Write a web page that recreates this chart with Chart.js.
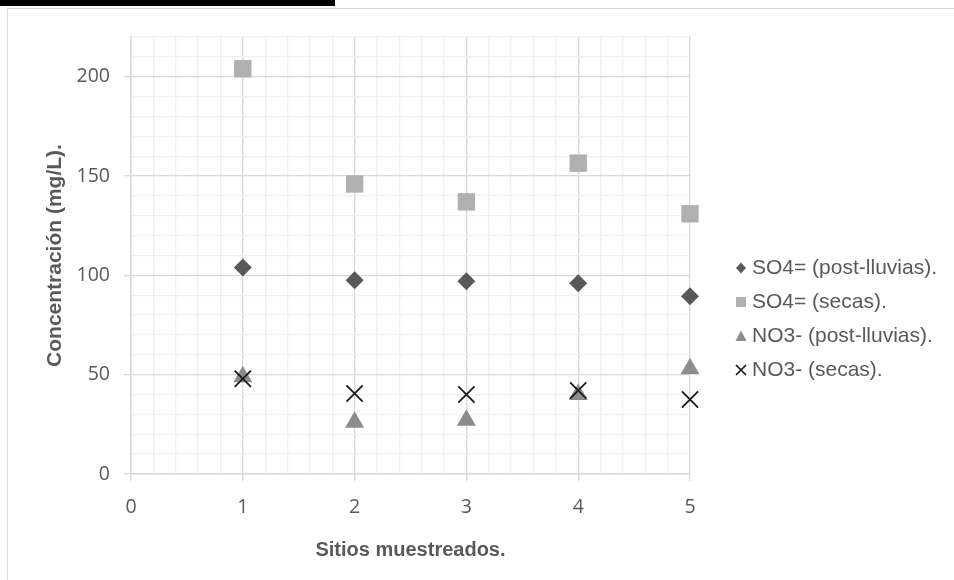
<!DOCTYPE html>
<html>
<head>
<meta charset="utf-8">
<script src="https://cdn.jsdelivr.net/npm/chart.js@4"></script>
<style>
  html, body { margin: 0; padding: 0; background: #fff; }
  #wrap { position: relative; width: 954px; height: 580px; overflow: hidden; }
  #frame { position: absolute; left: 7px; top: 8px; width: 1100px; height: 1000px;
           border: 1px solid #d9d9d9; box-sizing: border-box; }
  #bar { position: absolute; left: 0; top: 0; width: 335px; height: 6px; background: #000; }
  canvas { position: absolute; left: 0; top: 0; }
</style>
</head>
<body>
<div id="wrap">
  <div id="frame"></div>
  <div id="bar"></div>
  <canvas id="c" width="954" height="580"></canvas>
</div>
<script>
// Sampling sites and measured concentrations (mg/L)
const sites = [1, 2, 3, 4, 5];
const so4PostLluvias = [104, 97.5, 97, 96, 89.5];
const so4Secas = [204, 146, 137, 156.5, 131];
const no3PostLluvias = [49, 26, 27, 40, 53];
const no3Secas = [48, 40.5, 40, 42, 37.5];

const seriesLabels = [
  'SO4= (post-lluvias).',
  'SO4= (secas).',
  'NO3- (post-lluvias).',
  'NO3- (secas).'
];
const xTitle = 'Sitios muestreados.';
const yTitle = 'Concentración (mg/L).';

const toPoints = vals => sites.map((x, i) => ({ x: x, y: vals[i] }));

const TEXT = '#595959';
const MAJOR = '#d9d9d9';
const MINOR = '#efefef';

const isMajorX = v => Math.abs(v - Math.round(v)) < 1e-6;
const isMajorY = v => Math.abs(v / 50 - Math.round(v / 50)) < 1e-6;

// Small legend markers drawn by hand
function drawMarker(ctx, style, x, y, color) {
  ctx.save();
  ctx.fillStyle = color;
  ctx.strokeStyle = color;
  ctx.beginPath();
  if (style === 'rectRot') {
    ctx.moveTo(x, y - 5.5); ctx.lineTo(x + 5, y); ctx.lineTo(x, y + 5.5); ctx.lineTo(x - 5, y);
    ctx.closePath(); ctx.fill();
  } else if (style === 'rect') {
    ctx.rect(x - 5, y - 5, 10, 10); ctx.fill();
  } else if (style === 'triangle') {
    ctx.moveTo(x, y - 5.5); ctx.lineTo(x + 5.5, y + 5); ctx.lineTo(x - 5.5, y + 5);
    ctx.closePath(); ctx.fill();
  } else {
    ctx.lineWidth = 1.7;
    ctx.moveTo(x - 5, y - 5); ctx.lineTo(x + 5, y + 5);
    ctx.moveTo(x + 5, y - 5); ctx.lineTo(x - 5, y + 5);
    ctx.stroke();
  }
  ctx.restore();
}

const sideLegend = {
  id: 'sideLegend',
  afterDraw(chart) {
    const ctx = chart.ctx;
    const area = chart.chartArea;
    const mx = area.right + 51;
    const tx = area.right + 62;
    ctx.save();
    ctx.font = '21px "Liberation Sans", Arial, sans-serif';
    ctx.fillStyle = TEXT;
    ctx.textBaseline = 'middle';
    ctx.textAlign = 'left';
    chart.data.datasets.forEach((ds, i) => {
      const y = 268 + i * 34;
      drawMarker(ctx, ds.pointStyle, mx, y, ds.pointStyle === 'crossRot' ? ds.borderColor : ds.backgroundColor);
      ctx.fillStyle = TEXT;
      ctx.fillText(ds.label, tx, y);
    });
    ctx.restore();
  }
};

new Chart(document.getElementById('c'), {
  type: 'scatter',
  data: {
    datasets: [
      { label: seriesLabels[0], data: toPoints(so4PostLluvias), pointStyle: 'rectRot', clip: false,
        pointRadius: 9, backgroundColor: '#595959', borderColor: '#595959', borderWidth: 0, order: 4 },
      { label: seriesLabels[1], data: toPoints(so4Secas), pointStyle: 'rect', clip: false,
        pointRadius: 12.3, backgroundColor: '#b0b0b0', borderColor: '#b0b0b0', borderWidth: 0, order: 3 },
      { label: seriesLabels[2], data: toPoints(no3PostLluvias), pointStyle: 'triangle', clip: false,
        pointRadius: 11, backgroundColor: '#8c8c8c', borderColor: '#8c8c8c', borderWidth: 0, order: 2 },
      { label: seriesLabels[3], data: toPoints(no3Secas), pointStyle: 'crossRot', clip: false,
        pointRadius: 11.5, backgroundColor: '#1a1a1a', borderColor: '#1a1a1a', borderWidth: 1.8, order: 1 }
    ]
  },
  options: {
    responsive: false,
    animation: false,
    events: [],
    layout: { padding: { left: 43, top: 37, right: 264, bottom: 0 } },
    plugins: { legend: { display: false }, tooltip: { enabled: false } },
    elements: { point: { hoverRadius: 0 } },
    scales: {
      x: {
        type: 'linear', min: 0, max: 5,
        afterFit(scale) { scale.height = 106; },
        grid: {
          color: c => isMajorX(c.tick.value) ? MAJOR : MINOR,
          tickColor: c => isMajorX(c.tick.value) ? MAJOR : 'rgba(0,0,0,0)',
          tickLength: 7, lineWidth: 1.3
        },
        border: { color: MAJOR, width: 1.5 },
        ticks: {
          stepSize: 0.2, autoSkip: false, maxRotation: 0, padding: 15,
          color: TEXT, font: { family: '"Open Sans", sans-serif', size: 19.5 },
          callback: v => isMajorX(v) ? String(Math.round(v)) : ''
        },
        title: {
          display: true, text: xTitle, color: TEXT,
          font: { family: '"Liberation Sans", Arial, sans-serif', size: 20, weight: 'bold' },
          padding: { top: 0, bottom: 18 }
        }
      },
      y: {
        type: 'linear', min: 0, max: 220,
        afterFit(scale) { scale.width = 88; },
        grid: {
          color: c => isMajorY(c.tick.value) ? MAJOR : MINOR,
          tickColor: c => isMajorY(c.tick.value) ? MAJOR : 'rgba(0,0,0,0)',
          tickLength: 7, lineWidth: 1.3
        },
        border: { color: MAJOR, width: 1.5 },
        ticks: {
          stepSize: 10, autoSkip: false, padding: 14,
          color: TEXT, font: { family: '"Open Sans", sans-serif', size: 19.5 },
          callback: v => isMajorY(v) ? String(Math.round(v)) : ''
        },
        title: {
          display: true, text: yTitle, color: TEXT,
          font: { family: '"Liberation Sans", Arial, sans-serif', size: 21, weight: 'bold' },
          padding: { top: 0, bottom: 0 }
        }
      }
    }
  },
  plugins: [sideLegend]
});
</script>
</body>
</html>
